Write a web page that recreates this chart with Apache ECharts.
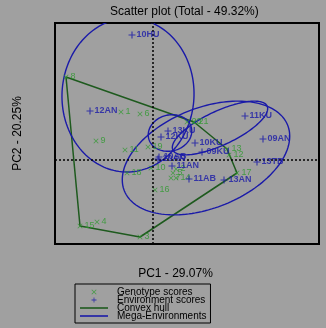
<!DOCTYPE html>
<html>
<head>
<meta charset="utf-8">
<script src="https://cdn.jsdelivr.net/npm/echarts@6/dist/echarts.min.js"></script>
<style>html,body{margin:0;padding:0;background:#a0a0a0;}#c{width:326px;height:328px;}</style>
</head>
<body>
<div id="c"></div>
<script>
// ---- data ----
const titleText = 'Scatter plot (Total - 49.32%)';
const xTitle = 'PC1 - 29.07%';
const yTitle = 'PC2 - 20.25%';
const legendNames = ['Genotype scores', 'Environment scores', 'Convex hull', 'Mega-Environments'];

const genoNames = ['1','2','3','4','5','6','7','8','9','10','11','12','13','14','15','16','17','18','19','20','21'];
const genoX = [-1.6, 1.15, -0.65, -2.8, 1.0, -0.65, 0.9, -4.35, -2.85, -0.1, -1.4, 3.8, 3.7, 1.15, -3.65, 0.1, 4.2, -1.3, -0.25, 1.7, 2.05];
const genoY = [2.4, -0.45, -3.85, -3.1, -0.65, 2.3, -0.9, 4.15, 0.95, -0.4, 0.5, 0.25, 0.55, -0.9, -3.3, -1.5, -0.65, -0.65, 0.65, 1.9, 1.9];

const envNames = ['10HU','12AN','11KU','13KU','12KU','10KU','09KU','09AN','13TB','13AN','11AB','11AN','10AN','10AB'];
const envX = [-1.05, -3.15, 4.6, 0.75, 0.4, 2.1, 2.45, 5.5, 5.2, 3.55, 1.8, 0.95, 0.25, 0.3];
const envY = [6.25, 2.45, 2.2, 1.45, 1.15, 0.85, 0.4, 1.05, -0.1, -1.0, -0.95, -0.3, 0.05, 0.15];

const hullOrder = ['8','21','13','17','3','15','8'];

const megaCx = [-1.25, 2.65, 3.35, 0.85];
const megaCy = [3.25, 0.1, 1.6, 1.35];
const megaRx = [3.3, 4.4, 2.6, 1.1];
const megaRy = [3.85, 2.5, 0.85, 0.9];
const megaAngle = [-3, 22, 25, 15];

// ---- styles ----
const FONT = 'Liberation Sans, Arial, sans-serif';
const GREEN = '#2c9a2c';
const BLUE = '#1a1aa8';
const HULL = '#1e5a1e';
const xPath = 'path://M0,1L1,0L5,4L9,0L10,1L6,5L10,9L9,10L5,6L1,10L0,9L4,5Z';
const plusPath = 'path://M4.2,0H5.8V4.2H10V5.8H5.8V10H4.2V5.8H0V4.2H4.2Z';
const linePath = 'path://M0,0H28V1.6H0Z';

const genoData = genoNames.map((n, i) => ({ name: n, value: [genoX[i], genoY[i]] }));
const envData = envNames.map((n, i) => ({ name: n, value: [envX[i], envY[i]] }));
const hullData = hullOrder.map(n => { const i = genoNames.indexOf(n); return [genoX[i], genoY[i]]; });
const megaData = megaCx.map((c, i) => [c, megaCy[i], megaRx[i], megaRy[i], megaAngle[i]]);

const chart = echarts.init(document.getElementById('c'), null, { renderer: 'canvas' });
chart.setOption({
  backgroundColor: '#a0a0a0',
  animation: false,
  textStyle: { fontFamily: FONT },
  title: {
    text: titleText, left: 110, top: 6, padding: 0,
    textStyle: { fontSize: 12, fontWeight: 'normal', color: '#000', fontFamily: FONT }
  },
  grid: { left: 55, top: 23, right: 7, bottom: 84, show: true, borderColor: '#000', borderWidth: 2, backgroundColor: 'transparent' },
  xAxis: {
    type: 'value', min: -4.9, max: 8.3,
    axisLine: { show: false }, axisTick: { show: false }, axisLabel: { show: false }, splitLine: { show: false },
    name: xTitle, nameLocation: 'middle', nameGap: 24,
    nameTextStyle: { fontSize: 12, color: '#000', fontFamily: FONT, padding: [0, 23, 0, 0] }
  },
  yAxis: {
    type: 'value', min: -4.2, max: 6.85,
    axisLine: { show: false }, axisTick: { show: false }, axisLabel: { show: false }, splitLine: { show: false },
    name: yTitle, nameLocation: 'middle', nameGap: 31, nameRotate: 90,
    nameTextStyle: { fontSize: 12, color: '#000', fontFamily: FONT }
  },
  legend: {
    orient: 'vertical', left: 75, top: 284, selectedMode: false,
    itemWidth: 28, itemHeight: 5, itemGap: -2,
    borderColor: '#000', borderWidth: 1, padding: [3, 4, 2, 5],
    textStyle: { fontSize: 10, color: '#000', fontFamily: FONT, padding: [0, 0, 0, 4] },
    data: [
      { name: legendNames[0], icon: xPath },
      { name: legendNames[1], icon: plusPath },
      { name: legendNames[2], icon: linePath },
      { name: legendNames[3], icon: linePath }
    ]
  },
  series: [
    {
      name: legendNames[2], type: 'line', data: hullData, showSymbol: false, symbol: 'none',
      lineStyle: { color: HULL, width: 1.5 }, itemStyle: { color: HULL }, clip: true, z: 2,
      markLine: {
        silent: true, symbol: 'none', label: { show: false },
        lineStyle: { type: [2, 2], color: '#000', width: 1.5 },
        data: [{ xAxis: 0 }, { yAxis: 0 }]
      }
    },
    {
      name: legendNames[3], type: 'custom', data: megaData, clip: true, z: 3,
      encode: { x: 0, y: 1 },
      itemStyle: { color: BLUE },
      renderItem: function (params, api) {
        const cx = api.value(0), cy = api.value(1), rx = api.value(2), ry = api.value(3);
        const a = api.value(4) * Math.PI / 180;
        const pts = [];
        const N = 160;
        for (let k = 0; k <= N; k++) {
          const t = 2 * Math.PI * k / N;
          const ex = rx * Math.cos(t), ey = ry * Math.sin(t);
          pts.push(api.coord([cx + ex * Math.cos(a) - ey * Math.sin(a), cy + ex * Math.sin(a) + ey * Math.cos(a)]));
        }
        return { type: 'polygon', shape: { points: pts }, style: { fill: 'none', stroke: BLUE, lineWidth: 1.4 } };
      }
    },
    {
      name: legendNames[0], type: 'scatter', data: genoData, symbol: xPath, symbolSize: 5, z: 4,
      itemStyle: { color: GREEN },
      label: { show: true, position: 'right', distance: 2, formatter: '{b}', fontSize: 9, color: GREEN, fontFamily: FONT }
    },
    {
      name: legendNames[1], type: 'scatter', data: envData, symbol: plusPath, symbolSize: 7, z: 5,
      itemStyle: { color: BLUE },
      label: { show: true, position: 'right', distance: 1, formatter: '{b}', fontSize: 9, fontWeight: 'bold', color: BLUE, fontFamily: FONT }
    }
  ]
});
</script>
</body>
</html>
